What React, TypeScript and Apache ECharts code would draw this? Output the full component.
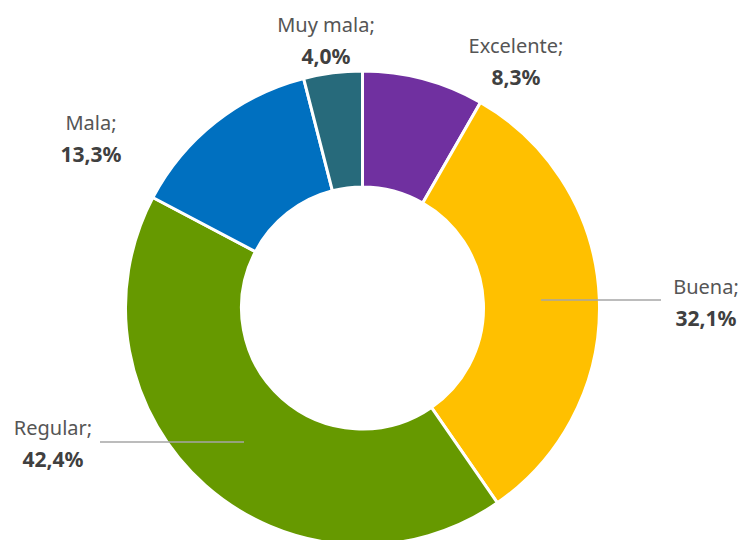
import React, { useEffect, useRef } from "react";
import * as echarts from "echarts";

const categories = ["Excelente", "Buena", "Regular", "Mala", "Muy mala"];
const values = [8.3, 32.1, 42.4, 13.3, 4.0];
const valueLabels = ["8,3%", "32,1%", "42,4%", "13,3%", "4,0%"];
const colors = ["#7030A0", "#FFC000", "#669900", "#0070C0", "#276A7B"];

// label block centres (layout only)
const labelPos: { x: number; y: number }[] = [
  { x: 516, y: 61 },
  { x: 706, y: 302 },
  { x: 53, y: 443 },
  { x: 91, y: 138 },
  { x: 326, y: 40 },
];
// leader lines for Buena and Regular (layout only)
const leaderLines = [
  [541, 300, 661, 300],
  [100, 442, 244, 442],
];

export default function App() {
  const ref = useRef<HTMLDivElement>(null);
  useEffect(() => {
    document.body.style.margin = "0";
    const chart = echarts.init(ref.current!, null, { renderer: "svg" });
    chart.setOption({
      animation: false,
      backgroundColor: "#ffffff",
      graphic: leaderLines.map((l) => ({
        type: "line",
        z: 100,
        shape: { x1: l[0], y1: l[1], x2: l[2], y2: l[3] },
        style: { stroke: "#A6A6A6", lineWidth: 1.5 },
      })),
      series: [
        {
          type: "pie",
          center: [362.5, 308],
          radius: [121, 237],
          startAngle: 90,
          clockwise: true,
          avoidLabelOverlap: false,
          itemStyle: { borderColor: "#ffffff", borderWidth: 3 },
          label: {
            show: true,
            position: "outside",
            formatter: (p: any) => `{a|${p.name};}\n{b|${valueLabels[p.dataIndex]}}`,
            rich: {
              a: { fontFamily: "Noto Sans", fontSize: 20, color: "#555555", lineHeight: 32, align: "center" },
              b: { fontFamily: "Noto Sans", fontSize: 21, fontWeight: "bold", color: "#404040", lineHeight: 32, align: "center" },
            },
          },
          labelLine: { show: false },
          labelLayout: (params: any) => {
            const p = labelPos[params.dataIndex];
            return { x: p.x, y: p.y, align: "center", verticalAlign: "middle" };
          },
          data: categories.map((c, i) => ({
            name: c,
            value: values[i],
            itemStyle: { color: colors[i] },
          })),
        },
      ],
    });
    return () => chart.dispose();
  }, []);
  return <div ref={ref} style={{ width: 744, height: 540 }} />;
}
